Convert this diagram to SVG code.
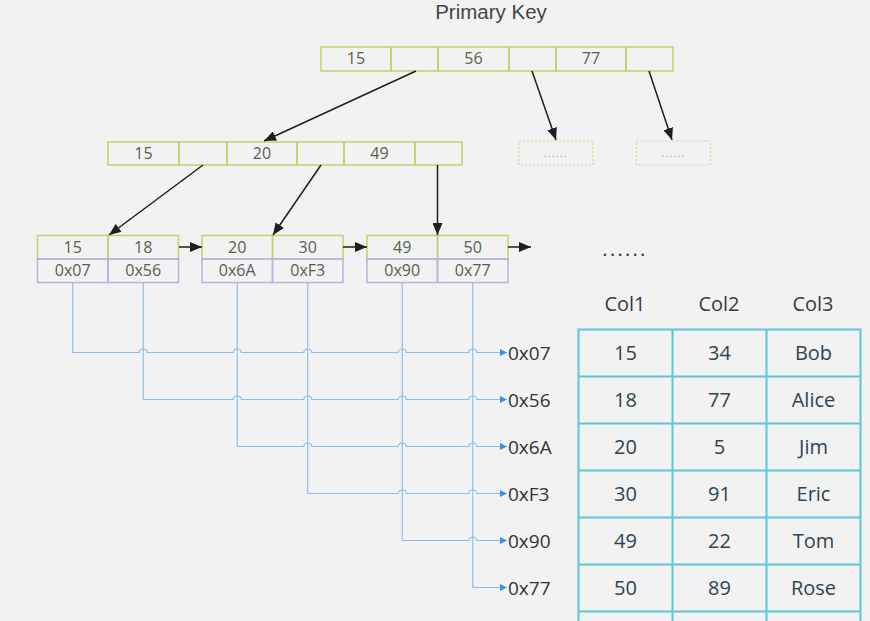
<svg xmlns="http://www.w3.org/2000/svg" width="870" height="621" viewBox="0 0 870 621">
<defs>
<marker id="ah" markerUnits="userSpaceOnUse" markerWidth="13" markerHeight="10" refX="12" refY="5" orient="auto"><path d="M0,0 L12,5 L0,10 z" fill="#1e1e1e"/></marker>
<marker id="bh" markerUnits="userSpaceOnUse" markerWidth="8" markerHeight="8" refX="7" refY="3.5" orient="auto"><path d="M0,0 L7,3.5 L0,7 z" fill="#3d8fe8"/></marker>
<style>
.g{fill:none;stroke:#b6d86c;stroke-width:1.5}
.p{fill:none;stroke:#bcaee6;stroke-width:1.5}
.d{fill:none;stroke:#c6e08a;stroke-width:1.2;stroke-dasharray:2,2}
.t{font-family:"Open Sans","Noto Sans",sans-serif;font-size:16px;fill:#59604f;text-anchor:middle}
.a{font-family:"Open Sans","Noto Sans",sans-serif;font-size:16px;fill:#5a5a5a;text-anchor:middle}
.lbl{font-family:"Open Sans","Noto Sans",sans-serif;font-size:19px;fill:#333}
.tb{font-family:"Open Sans","Noto Sans",sans-serif;font-size:20px;fill:#2e4453;text-anchor:middle}
.hd{font-family:"Open Sans","Noto Sans",sans-serif;font-size:20px;fill:#3a3a3a;text-anchor:middle}
.arr{stroke:#1e1e1e;stroke-width:1.5;fill:none}
.bl{stroke:#88bbee;stroke-width:1.1;fill:none}
.tl{stroke:#5cc6dc;stroke-width:2;fill:none}
</style>
</defs>
<rect width="870" height="621" fill="#f2f2f2"/>
<text x="491" y="19" style="font-family:'Liberation Sans',Arial,sans-serif;font-size:20.5px;fill:#444;text-anchor:middle">Primary Key</text>

<g id="root">
<rect class="g" x="321" y="47" width="70" height="24"/>
<rect class="g" x="391" y="47" width="47" height="24"/>
<rect class="g" x="438" y="47" width="71" height="24"/>
<rect class="g" x="509" y="47" width="47" height="24"/>
<rect class="g" x="556" y="47" width="70" height="24"/>
<rect class="g" x="626" y="47" width="47" height="24"/>
<text class="t" x="356" y="64">15</text>
<text class="t" x="473.5" y="64">56</text>
<text class="t" x="591" y="64">77</text>
</g>

<g id="mid">
<rect class="g" x="108" y="142" width="71" height="23"/>
<rect class="g" x="179" y="142" width="48" height="23"/>
<rect class="g" x="227" y="142" width="70" height="23"/>
<rect class="g" x="297" y="142" width="47" height="23"/>
<rect class="g" x="344" y="142" width="71" height="23"/>
<rect class="g" x="415" y="142" width="47" height="23"/>
<text class="t" x="143.5" y="159">15</text>
<text class="t" x="262" y="159">20</text>
<text class="t" x="379.5" y="159">49</text>
</g>

<g id="more1">
<rect class="d" x="519" y="141" width="74" height="24"/>
<text x="556" y="157" style="font-family:'Open Sans',sans-serif;font-size:10px;fill:#999;letter-spacing:1.4px" text-anchor="middle">......</text>
</g>
<g id="more2">
<rect class="d" x="636.5" y="141" width="74" height="24"/>
<text x="673.5" y="157" style="font-family:'Open Sans',sans-serif;font-size:10px;fill:#999;letter-spacing:1.4px" text-anchor="middle">......</text>
</g>

<g id="leaf1">
<rect class="g" x="37.5" y="235.5" width="70.5" height="23.5"/>
<rect class="g" x="108" y="235.5" width="70.5" height="23.5"/>
<rect class="p" x="37.5" y="259" width="70.5" height="23.5"/>
<rect class="p" x="108" y="259" width="70.5" height="23.5"/>
<text class="t" x="72.75" y="253">15</text>
<text class="t" x="143.25" y="253">18</text>
<text class="a" x="72.75" y="276">0x07</text>
<text class="a" x="143.25" y="276">0x56</text>
</g>
<g id="leaf2">
<rect class="g" x="202" y="235.5" width="70.5" height="23.5"/>
<rect class="g" x="272.5" y="235.5" width="70.5" height="23.5"/>
<rect class="p" x="202" y="259" width="70.5" height="23.5"/>
<rect class="p" x="272.5" y="259" width="70.5" height="23.5"/>
<text class="t" x="237.25" y="253">20</text>
<text class="t" x="307.75" y="253">30</text>
<text class="a" x="237.25" y="276">0x6A</text>
<text class="a" x="307.75" y="276">0xF3</text>
</g>
<g id="leaf3">
<rect class="g" x="367" y="235.5" width="70.5" height="23.5"/>
<rect class="g" x="437.5" y="235.5" width="70.5" height="23.5"/>
<rect class="p" x="367" y="259" width="70.5" height="23.5"/>
<rect class="p" x="437.5" y="259" width="70.5" height="23.5"/>
<text class="t" x="402.25" y="253">49</text>
<text class="t" x="472.75" y="253">50</text>
<text class="a" x="402.25" y="276">0x90</text>
<text class="a" x="472.75" y="276">0x77</text>
</g>

<g id="connectors">
<line class="arr" x1="416" y1="71" x2="264" y2="141" marker-end="url(#ah)"/>
<line class="arr" x1="532" y1="71" x2="556" y2="140" marker-end="url(#ah)"/>
<line class="arr" x1="649" y1="71" x2="672" y2="140" marker-end="url(#ah)"/>
<line class="arr" x1="203" y1="165" x2="109" y2="235" marker-end="url(#ah)"/>
<line class="arr" x1="321" y1="165" x2="273" y2="235" marker-end="url(#ah)"/>
<line class="arr" x1="437.5" y1="165" x2="437.5" y2="235" marker-end="url(#ah)"/>
<line class="arr" x1="179" y1="247" x2="202" y2="247" marker-end="url(#ah)"/>
<line class="arr" x1="343" y1="247" x2="367" y2="247" marker-end="url(#ah)"/>
<line class="arr" x1="508" y1="247" x2="531" y2="247" marker-end="url(#ah)"/>

<path class="bl" marker-end="url(#bh)" d="M72.75,282.5 V352.5 H139.25 a4,3.5 0 0 1 8,0 H233.25 a4,3.5 0 0 1 8,0 H303.75 a4,3.5 0 0 1 8,0 H398.25 a4,3.5 0 0 1 8,0 H468.75 a4,3.5 0 0 1 8,0 H507"/>
<path class="bl" marker-end="url(#bh)" d="M143.25,282.5 V399.5 H233.25 a4,3.5 0 0 1 8,0 H303.75 a4,3.5 0 0 1 8,0 H398.25 a4,3.5 0 0 1 8,0 H468.75 a4,3.5 0 0 1 8,0 H507"/>
<path class="bl" marker-end="url(#bh)" d="M237.25,282.5 V446.5 H303.75 a4,3.5 0 0 1 8,0 H398.25 a4,3.5 0 0 1 8,0 H468.75 a4,3.5 0 0 1 8,0 H507"/>
<path class="bl" marker-end="url(#bh)" d="M307.75,282.5 V493.5 H398.25 a4,3.5 0 0 1 8,0 H468.75 a4,3.5 0 0 1 8,0 H507"/>
<path class="bl" marker-end="url(#bh)" d="M402.25,282.5 V540.5 H468.75 a4,3.5 0 0 1 8,0 H507"/>
<path class="bl" marker-end="url(#bh)" d="M472.75,282.5 V587.5 H507"/>
</g>

<g id="labels">
<text class="lbl" x="508" y="359.5">0x07</text>
<text class="lbl" x="508" y="406.5">0x56</text>
<text class="lbl" x="508" y="453.5">0x6A</text>
<text class="lbl" x="508" y="500.5">0xF3</text>
<text class="lbl" x="508" y="547.5">0x90</text>
<text class="lbl" x="508" y="594.5">0x77</text>
</g>

<text x="625" y="256" class="hd" style="fill:#333;letter-spacing:2.3px">......</text>

<g id="table">
<text class="hd" x="625" y="311">Col1</text>
<text class="hd" x="719" y="311">Col2</text>
<text class="hd" x="813" y="311">Col3</text>
<path class="tl" d="M578.5,629 V329.5 H860.5 V629 M672.5,329.5 V629 M766.5,329.5 V629 M578.5,376.5 H860.5 M578.5,423.5 H860.5 M578.5,470.5 H860.5 M578.5,517.5 H860.5 M578.5,564.5 H860.5 M578.5,611.5 H860.5"/>
<text class="tb" x="625.5" y="360">15</text><text class="tb" x="719.5" y="360">34</text><text class="tb" x="813.5" y="360">Bob</text>
<text class="tb" x="625.5" y="407">18</text><text class="tb" x="719.5" y="407">77</text><text class="tb" x="813.5" y="407">Alice</text>
<text class="tb" x="625.5" y="454">20</text><text class="tb" x="719.5" y="454">5</text><text class="tb" x="813.5" y="454">Jim</text>
<text class="tb" x="625.5" y="501">30</text><text class="tb" x="719.5" y="501">91</text><text class="tb" x="813.5" y="501">Eric</text>
<text class="tb" x="625.5" y="548">49</text><text class="tb" x="719.5" y="548">22</text><text class="tb" x="813.5" y="548">Tom</text>
<text class="tb" x="625.5" y="595">50</text><text class="tb" x="719.5" y="595">89</text><text class="tb" x="813.5" y="595">Rose</text>
</g>
</svg>
